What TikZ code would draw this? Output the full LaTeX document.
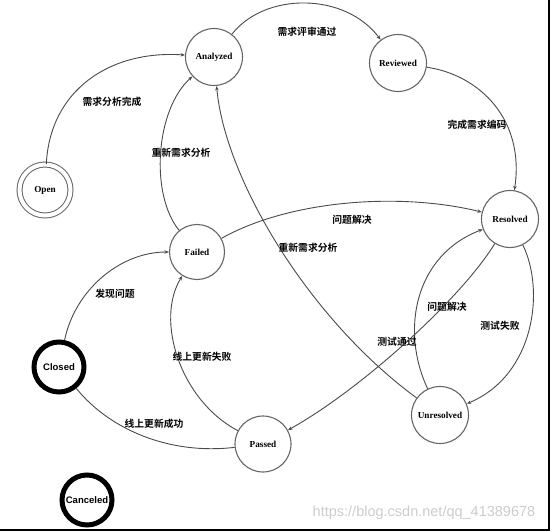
\documentclass[tikz,border=0pt]{standalone}
\usepackage{fontspec}
\setmainfont{Liberation Serif}
\newfontfamily\cjk{Noto Sans CJK SC Bold}
\newfontfamily\sansf{Liberation Sans}
\usetikzlibrary{arrows.meta}
\definecolor{ringgray}{HTML}{666666}
\definecolor{linegray}{HTML}{4A4A4A}
\begin{document}
\begin{tikzpicture}[x=1pt,y=-1pt,
  statenode/.style={circle,draw=ringgray,line width=1.1pt,minimum size=57pt,inner sep=0pt,font=\bfseries\fontsize{9.2}{10}\selectfont},
  finalstate/.style={circle,draw=black,line width=5pt,minimum size=50pt,inner sep=0pt,font=\sansf\bfseries\fontsize{9.5}{10}\selectfont},
  initstate/.style={circle,draw=ringgray,line width=1pt,double=white,double distance=4pt,minimum size=51pt,inner sep=0pt,font=\bfseries\fontsize{9.2}{10}\selectfont},
  conn/.style={draw=linegray,line width=0.9pt,-{Stealth[length=4.5pt,width=3.5pt]}},
  lbl/.style={font=\cjk\fontsize{9.8}{10}\selectfont,inner sep=0pt}]
\useasboundingbox (0,0) rectangle (554,532);
% frame lines
\coordinate (fr1) at (549,0);
\coordinate (fr2) at (549,530);
\coordinate (fr3) at (0,530);
\draw[line width=1.2pt] (fr1) -- (fr2) -- (fr3);
% states
\node[statenode] (analyzed) at (214,57) {Analyzed};
\node[statenode] (reviewed) at (398,63) {Reviewed};
\node[initstate] (open) at (45,190) {Open};
\node[statenode,minimum size=55pt] (failed) at (197,252) {Failed};
\node[statenode] (resolved) at (510,219) {Resolved};
\node[finalstate] (closed) at (59,367) {Closed};
\node[statenode,minimum size=56pt] (passed) at (263,444) {Passed};
\node[statenode] (unresolved) at (440,415) {Unresolved};
\node[finalstate] (canceled) at (87,500) {Canceled};
% connectors
\draw[conn] (open) .. controls (50,90) and (110,50) .. (analyzed);
\draw[conn] (analyzed) .. controls (265,-8) and (345,-8) .. (reviewed);
\draw[conn] (reviewed) .. controls (480,75) and (525,120) .. (resolved);
\draw[conn] (failed) .. controls (150,195) and (155,110) .. (analyzed);
\draw[conn] (failed) .. controls (290,200) and (400,192) .. (resolved);
\draw[conn] (unresolved) .. controls (310,320) and (225,180) .. (analyzed);
\draw[conn] (closed) .. controls (75,290) and (120,252) .. (failed);
\draw[conn,-] (passed) .. controls (170,455) and (110,430) .. (closed);
\draw[conn] (passed) .. controls (180,400) and (155,320) .. (failed);
\draw[conn] (resolved) .. controls (460,300) and (360,390) .. (passed);
\draw[conn] (unresolved) .. controls (400,330) and (415,255) .. (resolved);
\draw[conn] (resolved) .. controls (545,290) and (535,375) .. (unresolved);
% labels
\node[lbl] (l1) at (112,102) {需求分析完成};
\node[lbl] (l2) at (307,32) {需求评审通过};
\node[lbl] (l3) at (477,125) {完成需求编码};
\node[lbl] (l4) at (181,153) {重新需求分析};
\node[lbl] (l5) at (352,220) {问题解决};
\node[lbl] (l6) at (308,248) {重新需求分析};
\node[lbl] (l7) at (115,294) {发现问题};
\node[lbl] (l8) at (202,357) {线上更新失败};
\node[lbl] (l9) at (154,424) {线上更新成功};
\node[lbl] (l10) at (447,307) {问题解决};
\node[lbl] (l11) at (397,342) {测试通过};
\node[lbl] (l12) at (500,326) {测试失败};
% watermark
\node[font=\sansf\fontsize{14.5}{15}\selectfont,text=black!20,inner sep=0pt] (wm) at (424,513) {https://blog.csdn.net/qq\_41389678};
\end{tikzpicture}
\end{document}
